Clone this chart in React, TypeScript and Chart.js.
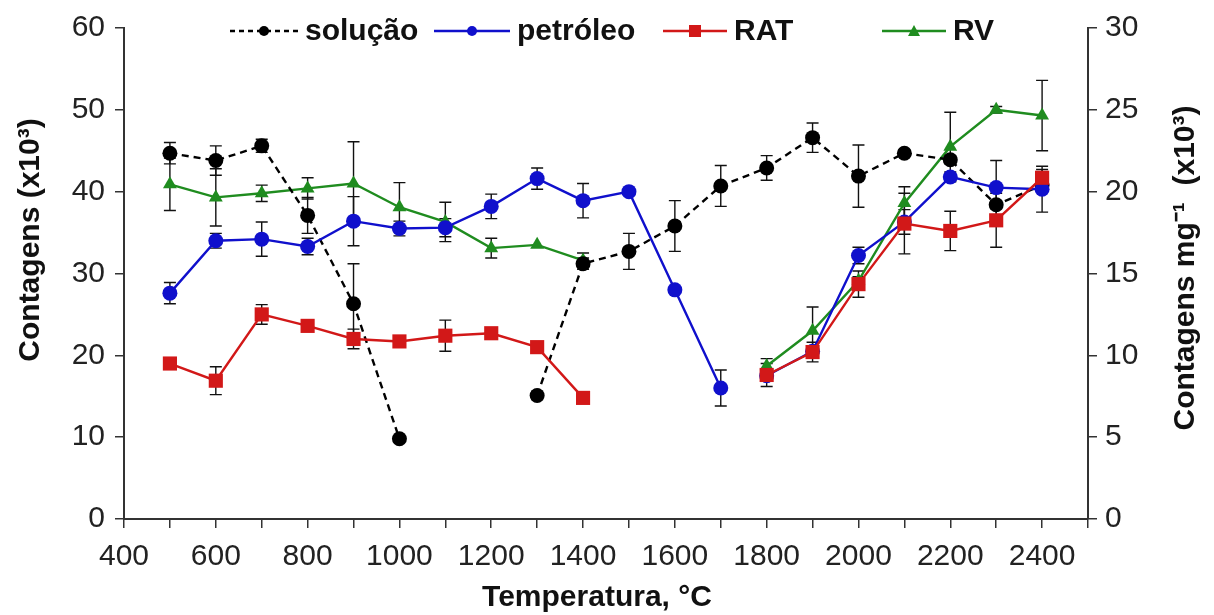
import React, { useEffect, useRef } from "react";
import { Chart, registerables } from "chart.js";

Chart.register(...registerables);

// Temperature steps (°C)
const temperatures = [500, 600, 700, 800, 900, 1000, 1100, 1200, 1300, 1400, 1500, 1600, 1700, 1800, 1900, 2000, 2100, 2200, 2300, 2400];

// Counts (x10³) and their standard deviations
const solucao = [44.7, 43.8, 45.6, 37.1, 26.3, 9.8, null, null, 15.1, 31.2, 32.7, 35.8, 40.7, 42.9, 46.6, 41.9, 44.7, 43.9, 38.4, 40.8];
const solucaoErr = [1.3, 1.8, 0.8, 2.2, 4.9, 0, 0, 0, 0.5, 0.7, 2.2, 3.1, 2.5, 1.5, 1.8, 3.8, 0.4, 0.5, 0.5, 0.5];

const petroleo = [27.6, 34.0, 34.2, 33.3, 36.4, 35.5, 35.6, 38.2, 41.6, 38.9, 40.0, 28.0, 16.0, 17.5, 20.5, 32.2, 36.3, 41.8, 40.5, 40.3];
const petroleoErr = [1.3, 0.9, 2.1, 1.0, 3.0, 0.9, 1.1, 1.5, 1.3, 2.1, 0, 0, 2.2, 0.6, 0.6, 1.0, 1.5, 0.6, 3.3, 2.8];

const rat = [19.0, 16.9, 25.0, 23.6, 22.0, 21.7, 22.4, 22.7, 21.0, 14.8, null, null, null, 17.6, 20.4, 28.7, 36.1, 35.2, 36.5, 41.7];
const ratErr = [0, 1.7, 1.2, 0, 1.2, 0, 1.9, 0, 0, 0, 0, 0, 0, 1.4, 1.2, 1.6, 3.7, 2.4, 3.3, 1.0];

const rv = [40.9, 39.3, 39.8, 40.4, 41.0, 38.1, 36.3, 33.1, 33.5, 31.6, null, null, null, 18.7, 23.0, 29.1, 38.6, 45.5, 50.0, 49.3];
const rvErr = [3.2, 3.5, 1.0, 1.3, 5.1, 3.0, 2.4, 1.2, 0, 0.9, 0, 0, 0, 0.9, 2.9, 0.5, 2.0, 4.2, 0.4, 4.3];

// Petroleum curve is interrupted after this temperature
const petroleoBreakAfter = 1700;

const seriesLabels = ["solução", "petróleo", "RAT", "RV"];
const xTitle = "Temperatura, °C";
const yTitle = "Contagens (x10³)";
const y1Title = "Contagens mg⁻¹  (x10³)";

const FONT = "'Liberation Sans', Arial, Helvetica, sans-serif";
const AXIS_COLOR = "#333333";
const TEXT_COLOR = "#222222";
const TITLE_COLOR = "#111111";

const BLACK = "#000000";
const BLUE = "#1010cc";
const RED = "#d21818";
const GREEN = "#1f8c1f";

const toPoints = (vals: (number | null)[]) =>
  temperatures.map((t, i) => ({ x: t, y: vals[i] }));

// Vertical error bars with caps
const errorBarPlugin = {
  id: "errorBars",
  beforeDatasetsDraw(chart: any) {
    const { ctx } = chart;
    const xs = chart.scales.x;
    const ys = chart.scales.y;
    const errs = [solucaoErr, petroleoErr, ratErr, rvErr];
    const vals = [solucao, petroleo, rat, rv];
    ctx.save();
    ctx.strokeStyle = "#111111";
    ctx.lineWidth = 1.4;
    ctx.setLineDash([]);
    vals.forEach((arr, di) => {
      arr.forEach((v, i) => {
        const e = errs[di][i];
        if (v === null || !e) return;
        const px = xs.getPixelForValue(temperatures[i]);
        const top = ys.getPixelForValue(v + e);
        const bot = ys.getPixelForValue(v - e);
        const cap = 6;
        ctx.beginPath();
        ctx.moveTo(px, top);
        ctx.lineTo(px, bot);
        ctx.moveTo(px - cap, top);
        ctx.lineTo(px + cap, top);
        ctx.moveTo(px - cap, bot);
        ctx.lineTo(px + cap, bot);
        ctx.stroke();
      });
    });
    ctx.restore();
  },
};

// Legend drawn as line + marker + bold label across the top of the plot
const lineLegendPlugin = {
  id: "lineLegend",
  afterDraw(chart: any) {
    const { ctx } = chart;
    const items = [
      { label: seriesLabels[0], color: BLACK, dash: [5, 4], shape: "circle", x: 230, len: 68 },
      { label: seriesLabels[1], color: BLUE, dash: [], shape: "circle", x: 434, len: 76 },
      { label: seriesLabels[2], color: RED, dash: [], shape: "rect", x: 663, len: 64 },
      { label: seriesLabels[3], color: GREEN, dash: [], shape: "triangle", x: 882, len: 64 },
    ];
    const y = 31;
    ctx.save();
    items.forEach((it) => {
      ctx.strokeStyle = it.color;
      ctx.lineWidth = 2.3;
      ctx.setLineDash(it.dash);
      ctx.beginPath();
      ctx.moveTo(it.x, y);
      ctx.lineTo(it.x + it.len, y);
      ctx.stroke();
      ctx.setLineDash([]);
      ctx.fillStyle = it.color;
      const cx = it.x + it.len / 2;
      ctx.beginPath();
      if (it.shape === "circle") {
        ctx.arc(cx, y, 5, 0, Math.PI * 2);
      } else if (it.shape === "rect") {
        ctx.rect(cx - 6, y - 6, 12, 12);
      } else {
        ctx.moveTo(cx, y - 6);
        ctx.lineTo(cx + 6, y + 5);
        ctx.lineTo(cx - 6, y + 5);
        ctx.closePath();
      }
      ctx.fill();
      ctx.fillStyle = TITLE_COLOR;
      ctx.font = `bold 30px ${FONT}`;
      ctx.textBaseline = "middle";
      ctx.textAlign = "left";
      ctx.fillText(it.label, it.x + it.len + 7, y + 1);
    });
    ctx.restore();
  },
};

// Axis titles
const axisTitlePlugin = {
  id: "axisTitles",
  afterDraw(chart: any) {
    const { ctx } = chart;
    ctx.save();
    ctx.fillStyle = TITLE_COLOR;
    ctx.font = `bold 30px ${FONT}`;
    ctx.textAlign = "center";
    ctx.textBaseline = "middle";
    ctx.fillText(xTitle, 597, 598);

    ctx.save();
    ctx.translate(31, 240);
    ctx.rotate(-Math.PI / 2);
    ctx.fillText(yTitle, 0, 0);
    ctx.restore();

    ctx.save();
    ctx.translate(1186, 268);
    ctx.rotate(-Math.PI / 2);
    ctx.fillText(y1Title, 0, 0);
    ctx.restore();

    ctx.restore();
  },
};

export default function App() {
  const canvasRef = useRef<HTMLCanvasElement | null>(null);

  useEffect(() => {
    if (!canvasRef.current) return;

    const common = {
      borderWidth: 2.4,
      pointBorderWidth: 0,
      spanGaps: false,
      tension: 0,
      yAxisID: "y",
    };

    const axisGrid = {
      display: true,
      drawOnChartArea: false,
      drawTicks: true,
      tickLength: 9,
      color: AXIS_COLOR,
      lineWidth: 1.5,
    };

    const chart = new Chart(canvasRef.current, {
      type: "line",
      data: {
        datasets: [
          {
            ...common,
            label: seriesLabels[0],
            data: toPoints(solucao),
            borderColor: BLACK,
            backgroundColor: BLACK,
            pointBackgroundColor: BLACK,
            borderDash: [7, 5],
            pointStyle: "circle",
            pointRadius: 7.5,
            order: 3,
          },
          {
            ...common,
            label: seriesLabels[1],
            data: toPoints(petroleo),
            borderColor: BLUE,
            backgroundColor: BLUE,
            pointBackgroundColor: BLUE,
            pointStyle: "circle",
            pointRadius: 7.5,
            segment: {
              borderColor: (c: any) =>
                c.p0.parsed.x === petroleoBreakAfter ? "rgba(0,0,0,0)" : undefined,
            },
            order: 2,
          },
          {
            ...common,
            label: seriesLabels[2],
            data: toPoints(rat),
            borderColor: RED,
            backgroundColor: RED,
            pointBackgroundColor: RED,
            pointStyle: "rect",
            pointRadius: 10,
            order: 1,
          },
          {
            ...common,
            label: seriesLabels[3],
            data: toPoints(rv),
            borderColor: GREEN,
            backgroundColor: GREEN,
            pointBackgroundColor: GREEN,
            pointStyle: "triangle",
            pointRadius: 8,
            order: 4,
          },
        ],
      },
      options: {
        animation: false,
        responsive: true,
        maintainAspectRatio: false,
        layout: { padding: { top: 28, left: 0, right: 0, bottom: 0 } },
        plugins: {
          legend: { display: false },
          tooltip: { enabled: false },
        },
        scales: {
          x: {
            type: "linear",
            min: 400,
            max: 2500,
            afterFit: (s: any) => {
              s.height = 96;
            },
            ticks: {
              stepSize: 100,
              autoSkip: false,
              maxRotation: 0,
              padding: 11,
              color: TEXT_COLOR,
              font: { family: FONT, size: 30 },
              callback: (v: any) => (v % 200 === 0 && v <= 2400 ? String(v) : ""),
            },
            grid: axisGrid,
            border: { display: true, color: AXIS_COLOR, width: 2 },
          },
          y: {
            type: "linear",
            position: "left",
            min: 0,
            max: 60,
            afterFit: (s: any) => {
              s.width = 124;
            },
            ticks: {
              stepSize: 10,
              padding: 10,
              color: TEXT_COLOR,
              font: { family: FONT, size: 30 },
            },
            grid: axisGrid,
            border: { display: true, color: AXIS_COLOR, width: 2 },
          },
          y1: {
            type: "linear",
            position: "right",
            min: 0,
            max: 30,
            afterFit: (s: any) => {
              s.width = 126;
            },
            ticks: {
              stepSize: 5,
              padding: 8,
              color: TEXT_COLOR,
              font: { family: FONT, size: 30 },
            },
            grid: axisGrid,
            border: { display: true, color: AXIS_COLOR, width: 2 },
          },
        },
      },
      plugins: [errorBarPlugin, lineLegendPlugin, axisTitlePlugin],
    });

    return () => chart.destroy();
  }, []);

  return (
    <div
      style={{
        position: "fixed",
        left: 0,
        top: 0,
        width: 1214,
        height: 615,
        background: "#ffffff",
      }}
    >
      <canvas ref={canvasRef} />
    </div>
  );
}
